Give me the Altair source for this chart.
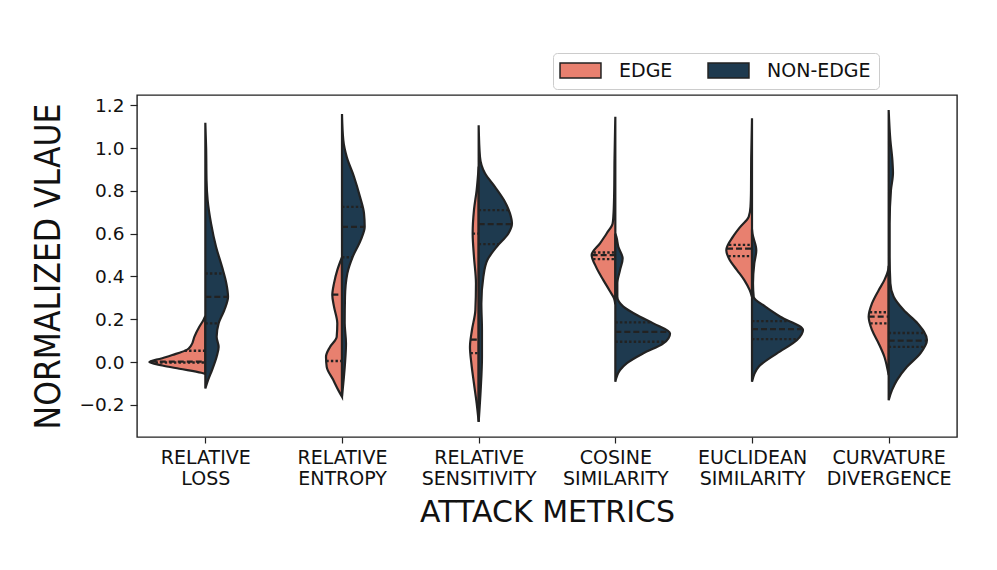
import json
import numpy as np
import pandas as pd
import altair as alt

categories = ["RELATIVE LOSS", "RELATIVE ENTROPY", "RELATIVE SENSITIVITY",
              "COSINE SIMILARITY", "EUCLIDEAN SIMILARITY", "CURVATURE DIVERGENCE"]
groups = ["EDGE", "NON-EDGE"]

# density profiles (value, half-width density)
rl_edge_v = [-0.055, -0.05, -0.031, -0.016, 0.0, 0.017, 0.033, 0.056, 0.079, 0.118, 0.165, 0.196, 0.215]
rl_edge_d = [0, 4, 26, 43, 56, 44, 33, 19, 14, 11, 6, 2, 0]
rl_non_v = [-0.123, -0.084, -0.037, 0.025, 0.071, 0.118, 0.181, 0.243, 0.305, 0.368, 0.445, 0.539, 0.648, 0.757, 0.85, 1.0, 1.118]
rl_non_d = [0, 2.7, 6.7, 11.3, 13.3, 11.3, 13.3, 19, 22.7, 21, 16.7, 10.7, 5.7, 2.3, 1.2, 0.8, 0]

re_edge_v = [-0.162, -0.131, -0.084, -0.022, 0.025, 0.071, 0.118, 0.181, 0.259, 0.313, 0.368, 0.43, 0.49]
re_edge_d = [0, 3.7, 8.7, 15.3, 16, 12, 5.3, 4.7, 8, 9.7, 8, 4.7, 0]
re_non_v = [-0.16, -0.1, -0.006, 0.087, 0.181, 0.305, 0.414, 0.492, 0.57, 0.632, 0.695, 0.772, 0.866, 0.959, 1.037, 1.159]
re_non_d = [0, 1.3, 3, 4, 2.7, 3, 5.3, 10.7, 18.7, 22.7, 22, 18, 12, 4.7, 1.3, 0]

rs_edge_v = [-0.279, -0.193, -0.1, -0.006, 0.071, 0.15, 0.243, 0.368, 0.492, 0.601, 0.71, 0.804, 0.913]
rs_edge_d = [0, 2, 4.7, 7.3, 8.7, 6.7, 3.3, 2.7, 4.7, 6, 4.7, 2, 0]
rs_non_v = [-0.279, -0.131, 0.025, 0.15, 0.274, 0.399, 0.477, 0.539, 0.601, 0.648, 0.695, 0.757, 0.819, 0.882, 0.959, 1.107]
rs_non_d = [0, 2, 3.3, 3.3, 2.7, 4.7, 8.7, 18, 29.7, 33.3, 31.3, 25.3, 16.3, 6.3, 1.3, 0]

cs_edge_v = [0.27, 0.298, 0.336, 0.383, 0.445, 0.5, 0.555, 0.601, 0.648, 0.679, 0.78, 0.95, 1.146]
cs_edge_d = [0, 1.3, 6, 12, 19.3, 23.7, 15.3, 8.7, 2.7, 2, 1.2, 0.8, 0]
cs_non_v = [-0.092, -0.037, -0.006, 0.041, 0.087, 0.134, 0.181, 0.212, 0.259, 0.305, 0.368, 0.43, 0.484, 0.539, 0.586, 0.6]
cs_non_d = [0, 4.7, 11.3, 28, 48, 54.7, 38, 24.7, 8, 2, 2, 4.7, 7.3, 3, 1, 0]

es_edge_v = [0.305, 0.336, 0.383, 0.43, 0.477, 0.523, 0.586, 0.632, 0.679, 0.726, 0.8, 0.95, 1.139]
es_edge_d = [0, 2.3, 7.7, 15, 22.3, 25.7, 19, 11.7, 3.3, 1.5, 1, 0.8, 0]
es_non_v = [-0.092, -0.022, 0.041, 0.103, 0.15, 0.212, 0.259, 0.305, 0.368, 0.461, 0.523, 0.6, 0.62]
es_non_d = [0, 6.7, 25, 45, 51, 28.3, 13.3, 1.7, 1, 2.3, 4.3, 0.5, 0]

cd_edge_v = [-0.06, -0.037, 0.025, 0.087, 0.15, 0.212, 0.274, 0.336, 0.383, 0.43, 0.45]
cd_edge_d = [0, 1, 4.3, 10, 16.7, 20, 16.7, 10, 4.3, 0.5, 0]
cd_non_v = [-0.178, -0.131, -0.084, -0.022, 0.041, 0.103, 0.181, 0.243, 0.305, 0.368, 0.492, 0.648, 0.804, 0.882, 0.944, 1.037, 1.178]
cd_non_d = [0, 3.3, 8.3, 18.3, 31.7, 38.3, 29, 15, 5, 1.7, 1, 1, 2.3, 4.3, 3.7, 1.7, 0]

# quartiles (q1, median, q3)
rl_edge_q = [-0.002, 0.002, 0.053]
rl_non_q = [0.181, 0.305, 0.414]
re_edge_q = [0.005, 0.315, 0.48]
re_non_q = [0.49, 0.632, 0.725]
rs_edge_q = [0.042, 0.105, 0.6]
rs_non_q = [0.551, 0.645, 0.71]
cs_edge_q = [0.481, 0.5, 0.512]
cs_non_q = [0.095, 0.141, 0.186]
es_edge_q = [0.495, 0.53, 0.548]
es_non_q = [0.107, 0.154, 0.191]
cd_edge_q = [0.181, 0.212, 0.233]
cd_non_q = [0.071, 0.1, 0.136]

profiles = [
    [(rl_edge_v, rl_edge_d, rl_edge_q), (rl_non_v, rl_non_d, rl_non_q)],
    [(re_edge_v, re_edge_d, re_edge_q), (re_non_v, re_non_d, re_non_q)],
    [(rs_edge_v, rs_edge_d, rs_edge_q), (rs_non_v, rs_non_d, rs_non_q)],
    [(cs_edge_v, cs_edge_d, cs_edge_q), (cs_non_v, cs_non_d, cs_non_q)],
    [(es_edge_v, es_edge_d, es_edge_q), (es_non_v, es_non_d, es_non_q)],
    [(cd_edge_v, cd_edge_d, cd_edge_q), (cd_non_v, cd_non_d, cd_non_q)],
]

SCALE = 1 / 136.67  # density units -> category units
SALMON = "#E8806F"
NAVY = "#1E3A4F"
INK = "#222222"

area_rows, rule_rows = [], []
for i, pair in enumerate(profiles):
    for g, (vs, ds, qs) in zip(groups, pair):
        sign = -1 if g == "EDGE" else 1
        for v, d in zip(vs, ds):
            w = d * SCALE
            xl, xr = (i - w, i) if sign < 0 else (i, i + w)
            area_rows.append(dict(key=f"{i}-{g}", group=g, v=v, xl=xl, xr=xr))
        order = np.argsort(vs)
        for k, q in enumerate(qs):
            d = float(np.interp(q, np.array(vs)[order], np.array(ds)[order]))
            w = d * SCALE
            xl, xr = (i - w, i) if sign < 0 else (i, i + w)
            rule_rows.append(dict(key=f"{i}-{g}", group=g, v=q, xl=xl, xr=xr,
                                  kind="median" if k == 1 else "quart"))

area_df = pd.DataFrame(area_rows)
rule_df = pd.DataFrame(rule_rows)

label_lines = [c.split(" ") for c in categories]
label_expr = json.dumps(label_lines) + "[datum.value]"

x_scale = alt.Scale(domain=[-0.5, 5.5], nice=False, zero=False)
y_scale = alt.Scale(domain=[-0.35, 1.248], nice=False, zero=False)

x_axis = alt.Axis(values=list(range(len(categories))), labelExpr=label_expr,
                  title="ATTACK METRICS", grid=False, labelFontSize=19,
                  labelFont="DejaVu Sans", tickSize=6,
                  labelLineHeight=21, labelPadding=5, labelAngle=0,
                  titleFont="DejaVu Sans", titleFontSize=30,
                  titleFontWeight="normal", titleX=410, titleY=75,
                  titleBaseline="middle", titleAlign="center")
y_axis = alt.Axis(values=[-0.2, 0.0, 0.2, 0.4, 0.6, 0.8, 1.0, 1.2], format=".1f",
                  title="NORMALIZED VLAUE", grid=False, labelFontSize=18.5,
                  labelFont="DejaVu Sans", labelPadding=6, tickSize=7,
                  titleFont="DejaVu Sans Condensed, DejaVu Sans", titleFontSize=35,
                  titleFontWeight="normal", titleX=-89, titleY=171,
                  titleBaseline="middle", titleAlign="center", titleAngle=270)

areas = alt.Chart(area_df).mark_area(
    orient="horizontal", interpolate="monotone", stroke=INK, strokeWidth=2.2,
    opacity=1
).encode(
    y=alt.Y("v:Q", scale=y_scale, axis=y_axis),
    x=alt.X("xl:Q", scale=x_scale, axis=x_axis),
    x2="xr:Q",
    detail="key:N",
    fill=alt.Fill("group:N", scale=alt.Scale(domain=groups, range=[SALMON, NAVY]),
                  legend=alt.Legend(orient="none", legendX=416, legendY=-42,
                                    direction="horizontal", title=None,
                                    symbolType="M-2.73,-1H2.73V1H-2.73Z",
                                    symbolSize=225, symbolStrokeColor=INK,
                                    symbolStrokeWidth=1.5, symbolOpacity=1,
                                    symbolOffset=10,
                                    labelFontSize=19, labelFont="DejaVu Sans",
                                    labelColor="#111", labelOffset=29,
                                    columnPadding=32, padding=8,
                                    strokeColor="#cccccc", fillColor="white",
                                    cornerRadius=4)),
)

quart = alt.Chart(rule_df).transform_filter(alt.datum.kind == "quart").mark_rule(
    color=INK, strokeWidth=2.3, strokeDash=[2.4, 2.2]
).encode(y="v:Q", x="xl:Q", x2="xr:Q")

median = alt.Chart(rule_df).transform_filter(alt.datum.kind == "median").mark_rule(
    color=INK, strokeWidth=2.3, strokeDash=[6, 3]
).encode(y="v:Q", x="xl:Q", x2="xr:Q")

chart = alt.layer(areas, quart, median).properties(
    width=820, height=342,
    autosize=alt.AutoSizeParams(type="none"),
    padding={"left": 129, "top": 87, "right": 20, "bottom": 100},
).configure_view(
    stroke=INK, strokeWidth=1.4
).configure_axis(
    domain=False, tickColor=INK, tickWidth=1.2, labelColor="#111",
    titleColor="#111"
)

chart.save("out.html", embed_options={"renderer": "svg", "actions": False})
